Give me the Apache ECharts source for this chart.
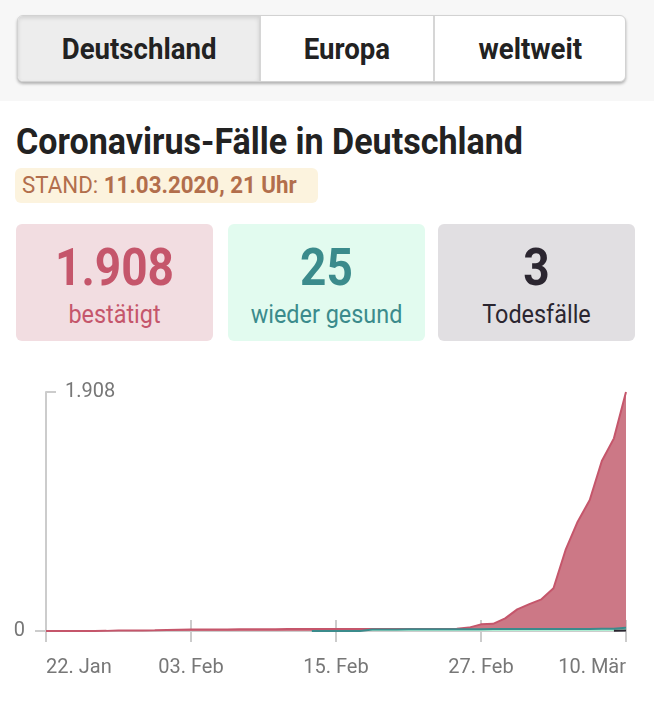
<!DOCTYPE html>
<html>
<head>
<meta charset="utf-8">
<script src="https://cdn.jsdelivr.net/npm/echarts@6/dist/echarts.min.js"></script>
<style>
    body { margin: 0; width: 654px; height: 714px; background: #fff; font-family: Roboto, "Noto Sans", sans-serif; position: relative; overflow: hidden; }
    .band { position: absolute; left: 0; top: 0; width: 654px; height: 101px; background: #f7f7f7; }
    .tabs { position: absolute; left: 17px; top: 15px; width: 607px; height: 65px; display: flex; border: 1px solid #d2d2d2; border-radius: 6px; background: #fff; box-shadow: 0 2px 3px rgba(0,0,0,0.28); overflow: hidden; }
    .tab { display: flex; align-items: center; justify-content: center; font-size: 30px; font-weight: 700; color: #222; border-left: 2px solid #d6d6d6; }
    .tab span { display: inline-block; transform: scaleX(0.92); }
    .tab.on { background: #ededed; border-left: none; box-shadow: inset 0 2px 4px rgba(0,0,0,0.12); }
    h1 { position: absolute; left: 16px; top: 120px; margin: 0; font-size: 37px; line-height: 44px; font-weight: 700; color: #222; white-space: nowrap; transform: scaleX(0.92); transform-origin: left center; }
    .stand { position: absolute; left: 15px; top: 168px; width: 303px; height: 35px; background: #fcf3de; border-radius: 6px; color: #b26e4c; }
    .stand span { position: absolute; left: 7px; top: 0; font-size: 24px; line-height: 35px; white-space: nowrap; transform: scaleX(0.93); transform-origin: left center; }
    .stand b { font-weight: 700; }
    .card { position: absolute; top: 224px; width: 197px; height: 117px; border-radius: 6px; text-align: center; }
    .card .n { font-size: 52px; font-weight: 700; margin-top: 16px; line-height: 56px; transform: scaleX(0.885); }
    .card .l { font-size: 26px; margin-top: 4px; line-height: 28px; transform: scaleX(0.9); }
    #chart { position: absolute; left: 0; top: 360px; width: 654px; height: 354px; }
</style>
</head>
<body>
<div class="band"></div>
<div class="tabs">
    <div class="tab on" style="width: 243px;"><span>Deutschland</span></div>
    <div class="tab" style="width: 173px;"><span>Europa</span></div>
    <div class="tab" style="width: 191px;"><span>weltweit</span></div>
</div>
<h1>Coronavirus-Fälle in Deutschland</h1>
<div class="stand"><span>STAND: <b>11.03.2020, 21 Uhr</b></span></div>
<div class="card" style="left: 16px; background: #f2dde1; color: #c5566b;"><div class="n">1.908</div><div class="l">bestätigt</div></div>
<div class="card" style="left: 228px; background: #e2fbef; color: #3b8b8c;"><div class="n">25</div><div class="l">wieder gesund</div></div>
<div class="card" style="left: 438px; background: #e1dfe2; color: #2b2630;"><div class="n">3</div><div class="l">Todesfälle</div></div>
<div id="chart"></div>
<script>
    // Tage 22. Jan - 10. Mär 2020
    var days = [
        '22. Jan', '23. Jan', '24. Jan', '25. Jan', '26. Jan', '27. Jan', '28. Jan', '29. Jan', '30. Jan', '31. Jan',
        '01. Feb', '02. Feb', '03. Feb', '04. Feb', '05. Feb', '06. Feb', '07. Feb', '08. Feb', '09. Feb', '10. Feb',
        '11. Feb', '12. Feb', '13. Feb', '14. Feb', '15. Feb', '16. Feb', '17. Feb', '18. Feb', '19. Feb', '20. Feb',
        '21. Feb', '22. Feb', '23. Feb', '24. Feb', '25. Feb', '26. Feb', '27. Feb', '28. Feb', '29. Feb',
        '01. Mär', '02. Mär', '03. Mär', '04. Mär', '05. Mär', '06. Mär', '07. Mär', '08. Mär', '09. Mär', '10. Mär'
    ];
    var confirmed = [
        0, 0, 0, 0, 0, 1, 4, 4, 4, 5,
        8, 10, 12, 12, 12, 12, 13, 13, 14, 14,
        16, 16, 16, 16, 16, 16, 16, 16, 16, 16,
        16, 16, 16, 16, 18, 27, 53, 57, 101,
        173, 215, 253, 341, 647, 873, 1046, 1357, 1538, 1908
    ];
    var recovered = [
        null, null, null, null, null, null, null, null, null, null,
        null, null, null, null, null, null, null, null, null, null,
        null, null, 0, 0, 0, 0, 0, 12, 12, 12,
        14, 14, 14, 14, 14, 14, 14, 16, 16,
        16, 16, 16, 16, 16, 16, 16, 18, 18, 25
    ];
    var deaths = [
        null, null, null, null, null, null, null, null, null, null,
        null, null, null, null, null, null, null, null, null, null,
        null, null, null, null, null, null, null, null, null, null,
        null, null, null, null, null, null, null, null, null,
        null, null, null, null, null, null, null, null, 2, 3
    ];
    var yMax = 1908;

    function fmtDe(v) {
        return String(v).replace(/\B(?=(\d{3})+(?!\d))/g, '.');
    }

    var axisGray = '#cccccc';
    var labelStyle = { color: '#777777', fontSize: 20, fontFamily: 'Roboto' };

    var myChart = echarts.init(document.getElementById('chart'), null, { renderer: 'canvas' });
    var option = {
        animation: false,
        grid: { left: 46, right: 28, top: 32, bottom: 83, containLabel: false },
        xAxis: [
            {
                type: 'category',
                data: days,
                boundaryGap: false,
                axisLine: { lineStyle: { color: axisGray, width: 2 } },
                axisTick: { interval: 11, length: 11, lineStyle: { color: axisGray, width: 2 } },
                axisLabel: Object.assign({ interval: 11, margin: 27, alignMinLabel: 'left', alignMaxLabel: 'right' }, labelStyle),
                splitLine: { show: false }
            },
            {
                // Ticks ragen auch nach oben
                type: 'category',
                data: days,
                boundaryGap: false,
                position: 'bottom',
                axisLine: { show: false },
                axisTick: { inside: true, interval: 11, length: 11, lineStyle: { color: axisGray, width: 2 } },
                axisLabel: { show: false },
                splitLine: { show: false }
            }
        ],
        yAxis: [
            {
                type: 'value',
                min: 0,
                max: yMax,
                position: 'left',
                axisLine: { show: true, lineStyle: { color: axisGray, width: 2 } },
                axisTick: { show: true, length: 11, customValues: [0], lineStyle: { color: axisGray, width: 2 } },
                axisLabel: Object.assign({ customValues: [0], margin: 21, padding: [4, 0, 0, 0], formatter: fmtDe }, labelStyle),
                splitLine: { show: false }
            },
            {
                type: 'value',
                min: 0,
                max: yMax,
                position: 'left',
                axisLine: { show: false },
                axisTick: { show: true, inside: true, length: 10, customValues: [yMax], lineStyle: { color: axisGray, width: 2 } },
                axisLabel: Object.assign({ inside: true, customValues: [yMax], margin: 19, padding: [5, 0, 0, 0], formatter: fmtDe }, labelStyle),
                splitLine: { show: false }
            }
        ],
        series: [
            {
                name: 'bestätigt',
                type: 'line',
                data: confirmed,
                showSymbol: false,
                lineStyle: { color: '#c5566b', width: 2 },
                itemStyle: { color: '#c5566b' },
                areaStyle: { color: '#cc7886', opacity: 1 }
            },
            {
                name: 'wieder gesund',
                type: 'line',
                data: recovered,
                showSymbol: false,
                lineStyle: { color: '#3b8b8c', width: 2 },
                itemStyle: { color: '#3b8b8c' },
                areaStyle: { color: '#aeeed3', opacity: 1 }
            },
            {
                name: 'Todesfälle',
                type: 'line',
                data: deaths,
                showSymbol: false,
                lineStyle: { color: '#2b2630', width: 2 },
                itemStyle: { color: '#2b2630' },
                areaStyle: { color: '#6d6870', opacity: 1 }
            }
        ]
    };
    myChart.setOption(option);
</script>
</body>
</html>
